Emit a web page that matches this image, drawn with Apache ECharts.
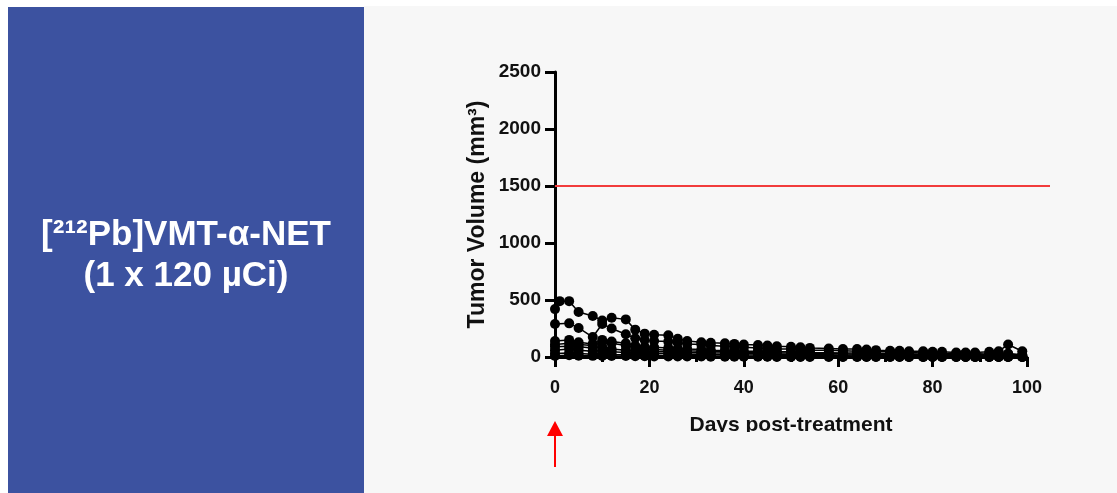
<!DOCTYPE html>
<html>
<head>
<meta charset="utf-8">
<script src="https://cdn.jsdelivr.net/npm/echarts@6/dist/echarts.min.js"></script>
<style>
html,body{margin:0;padding:0;background:#ffffff;}
#chart{width:1117px;height:493px;}
</style>
</head>
<body>
<div id="chart"></div>
<script>
// ---- data ----
const days = [0,1,3,5,8,10,12,15,17,19,21,24,26,28,31,33,36,38,40,43,45,47,50,52,54,58,61,64,66,68,71,73,75,78,80,82,85,87,89,92,94,96,99];
const mouse1 = [420,490,490,395,360,320,345,330,240,205,195,190,160,140,130,125,120,115,110,105,100,95,90,85,80,75,70,70,65,60,55,55,50,50,45,45,40,40,40,45,50,110,50];
const mouse2 = [290,null,295,255,175,290,250,200,165,150,140,135,125,115,110,100,95,90,85,80,75,70,70,65,60,60,55,50,50,45,45,40,40,35,35,30,30,30,30,25,25,30,20];
const mouse3 = [110,null,120,110,100,130,120,100,80,70,65,60,60,55,50,50,45,45,40,40,40,35,35,30,30,30,28,25,25,25,22,20,20,20,18,18,15,15,15,15,12,12,10];
const mouse4 = [90,null,95,90,80,90,70,60,55,50,45,45,40,40,38,35,35,30,30,28,25,25,22,22,20,20,18,18,15,15,15,12,12,10,10,10,8,8,8,6,6,5,5];
const mouse5 = [60,null,70,60,50,60,45,40,35,35,30,30,28,25,25,22,20,20,18,18,15,15,12,12,10,10,10,8,8,8,6,6,5,5,5,4,4,3,3,3,2,2,0];
const mouse6 = [30,null,35,30,25,30,20,20,18,15,15,12,12,10,10,8,8,8,6,6,5,5,5,4,4,4,3,3,3,2,2,2,1,1,1,0,0,0,0,0,0,0,0];
const mouse7 = [10,null,15,12,10,10,8,8,6,6,5,5,5,4,4,3,3,3,2,2,2,1,1,1,0,0,0,0,0,0,0,0,0,0,0,0,0,0,0,0,0,0,0];
const mouse8 = [140,null,150,130,115,150,135,120,100,90,85,80,75,70,65,60,58,55,50,50,48,45,45,42,40,38,35,35,32,30,30,28,28,25,25,25,22,22,22,20,20,25,15];
const mice = [mouse1,mouse2,mouse3,mouse4,mouse5,mouse6,mouse7,mouse8];
const thresholdX = [0,105];
const thresholdY = [1500,1500];
const xTicks = [0,20,40,60,80,100];
const yTicks = [0,500,1000,1500,2000,2500];
const titleLine1 = '[²¹²Pb]VMT-α-NET';
const titleLine2 = '(1 x 120 µCi)';

// ---- chart ----
const chart = echarts.init(document.getElementById('chart'), null, {renderer:'canvas'});
const FONT = '"Liberation Sans", Arial, sans-serif';

const series = mice.map(m => ({
  type:'line',
  xAxisIndex:0, yAxisIndex:0,
  data: days.map((d,i)=> m[i]==null ? null : [d, m[i]]).filter(p=>p),
  symbol:'circle',
  symbolSize:10,
  showSymbol:true,
  itemStyle:{color:'#000'},
  lineStyle:{color:'#000', width:1.5},
  clip:false,
  silent:true,
  z:3
}));
series.push({
  type:'line',
  xAxisIndex:1, yAxisIndex:1,
  data: thresholdX.map((x,i)=>[x, thresholdY[i]]),
  symbol:'none',
  lineStyle:{color:'#f23c3c', width:2},
  clip:false,
  silent:true,
  z:2
});

const baseGraphics = [
  {type:'rect', shape:{x:364, y:6, width:753, height:487}, style:{fill:'#f7f7f7'}, z:-10, silent:true},
  {type:'rect', shape:{x:8, y:7, width:356, height:486}, style:{fill:'#3c52a0'}, z:-9, silent:true},
  {type:'text', x:186, y:235, style:{text:titleLine1, fill:'#fff', font:'bold 35px '+FONT, textAlign:'center', textVerticalAlign:'middle'}, z:5},
  {type:'text', x:186, y:276, style:{text:titleLine2, fill:'#fff', font:'bold 35px '+FONT, textAlign:'center', textVerticalAlign:'middle'}, z:5}
];

chart.setOption({
  backgroundColor:'#ffffff',
  animation:false,
  grid:[
    {left:555, right:90, top:72, bottom:136},
    {left:555, right:67, top:72, bottom:136}
  ],
  xAxis:[{
    type:'value', gridIndex:0, min:0, max:100, interval:20,
    name:'Days post-treatment', nameLocation:'middle', nameGap:58,
    nameTextStyle:{fontFamily:FONT, fontWeight:'bold', fontSize:21, color:'#111'},
    axisLine:{lineStyle:{color:'#000', width:3}},
    axisTick:{show:true, length:10, lineStyle:{color:'#000', width:3}},
    minorTick:{show:true, splitNumber:2, length:5, lineStyle:{color:'#000', width:3}},
    axisLabel:{fontFamily:FONT, fontWeight:'bold', fontSize:18, color:'#111', margin:22,
      formatter: v => xTicks.includes(v) ? String(v) : ''},
    splitLine:{show:false}
  },{
    type:'value', gridIndex:1, min:0, max:105, show:false
  }],
  yAxis:[{
    type:'value', gridIndex:0, min:0, max:2500, interval:500,
    name:'Tumor Volume (mm³)', nameLocation:'middle', nameGap:66, nameRotate:90,
    nameTextStyle:{fontFamily:FONT, fontWeight:'bold', fontSize:23, color:'#111'},
    axisLine:{show:true, lineStyle:{color:'#000', width:3}},
    axisTick:{show:true, length:10, lineStyle:{color:'#000', width:3}},
    axisLabel:{fontFamily:FONT, fontWeight:'bold', fontSize:19, color:'#111', margin:14,
      formatter: v => yTicks.includes(v) ? String(v) : ''},
    splitLine:{show:false}
  },{
    type:'value', gridIndex:1, min:0, max:2500, show:false
  }],
  graphic: baseGraphics,
  series: series
});

// clipped bottom of x-axis title, and red arrow at day 0
const p0 = chart.convertToPixel({xAxisIndex:0, yAxisIndex:0}, [0,0]);
const ax = p0[0];
chart.setOption({
  graphic: baseGraphics.concat([
    {type:'rect', shape:{x:660, y:432, width:260, height:14}, style:{fill:'#f7f7f7'}, z:100, silent:true},
    {type:'line', shape:{x1:ax, y1:467, x2:ax, y2:432}, style:{stroke:'#ff0000', lineWidth:2}, z:100},
    {type:'polygon', shape:{points:[[ax,421],[ax-8,436],[ax+8,436]]}, style:{fill:'#ff0000'}, z:100}
  ])
});
</script>
</body>
</html>
